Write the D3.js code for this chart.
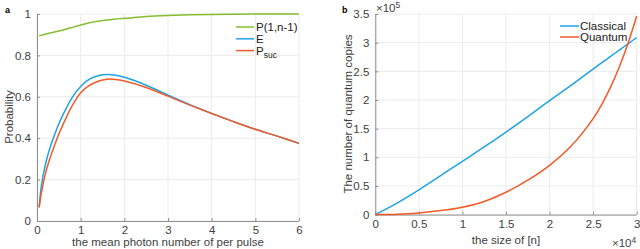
<!DOCTYPE html>
<html><head><meta charset="utf-8">
<script src="https://cdn.jsdelivr.net/npm/d3@7"></script>
<style>
body{margin:0;background:#fff;}
svg{display:block;font-family:"Liberation Sans",Arial,sans-serif;}
</style></head>
<body><svg id="c" width="640" height="249"></svg>
<script>
// ---- Panel a data ----
const muX = [0.05,0.1,0.2,0.3,0.4,0.5,0.6,0.8,1.0,1.2,1.4,1.6,1.8,2.0,2.5,3.0,3.5,4.0,4.5,5.0,5.5,6.0];
const pGreen = [0.895,0.898,0.903,0.908,0.913,0.918,0.923,0.935,0.947,0.958,0.965,0.971,0.976,0.979,0.988,0.993,0.996,0.998,0.999,0.9995,1.0,1.0];
const eBlue = [0.07,0.17,0.28,0.355,0.415,0.47,0.515,0.595,0.65,0.685,0.702,0.708,0.704,0.694,0.656,0.608,0.562,0.52,0.48,0.443,0.41,0.375];
const pSuc  = [0.065,0.135,0.235,0.305,0.365,0.42,0.468,0.555,0.62,0.655,0.675,0.685,0.684,0.676,0.645,0.603,0.56,0.519,0.48,0.443,0.41,0.375];
const aXTicks = [0,1,2,3,4,5,6];
const aYTicks = [0,0.2,0.4,0.6,0.8,1];
const aLegend = ["P(1,n-1)","E","P"];

// ---- Panel b data ----
const nX = [0,0.25,0.5,0.75,1.0,1.25,1.5,1.75,2.0,2.25,2.5,2.6,2.7,2.8,2.9,3.0];
const classical = [0,0.2,0.43,0.68,0.93,1.18,1.44,1.71,1.99,2.26,2.54,2.65,2.76,2.87,2.98,3.09];
const quantum = [0,0.008,0.03,0.07,0.13,0.23,0.39,0.60,0.86,1.2,1.675,1.925,2.225,2.575,2.985,3.465];
const bXTicks = [0,0.5,1,1.5,2,2.5,3];
const bYTicks = [0,0.5,1,1.5,2,2.5,3,3.5];
const bLegend = ["Classical","Quantum"];

const C_GREEN="#84be2e", C_BLUE="#1ea3e8", C_ORANGE="#f25a28";
const AX="#8f8f8f", TXT="#404040", GRID="#ebebeb";

const svg=d3.select("#c");

function panel(o){
  const g=svg.append("g");
  const x=d3.scaleLinear().domain(o.xd).range([o.x0,o.x1]);
  const y=d3.scaleLinear().domain(o.yd).range([o.y0,o.y1]);
  g.append("g").selectAll("line").data(o.xt).join("line")
    .attr("x1",d=>x(d)).attr("x2",d=>x(d)).attr("y1",o.y0).attr("y2",o.y1)
    .attr("stroke",GRID).attr("stroke-width",1);
  g.append("g").selectAll("line").data(o.yt).join("line")
    .attr("y1",d=>y(d)).attr("y2",d=>y(d)).attr("x1",o.x0).attr("x2",o.x1)
    .attr("stroke",GRID).attr("stroke-width",1);
  const xa=d3.axisBottom(x).tickValues(o.xt).tickSize(-3).tickPadding(5).tickFormat(o.xf);
  const ya=d3.axisLeft(y).tickValues(o.yt).tickSize(-3).tickPadding(6).tickFormat(o.yf);
  const gx=g.append("g").attr("transform",`translate(0,${o.y0})`).call(xa);
  const gy=g.append("g").attr("transform",`translate(${o.x0},0)`).call(ya);
  [gx,gy].forEach(a=>{
    a.select(".domain").attr("stroke",AX).attr("stroke-width",1);
    a.selectAll(".tick line").attr("stroke",AX);
    a.selectAll(".tick text").attr("fill",TXT).style("font-size","11.5px").style("font-family","Liberation Sans, Arial, sans-serif");
  });
  gx.select(".domain").attr("d",`M${o.x0},0.5H${o.x1}`);
  gy.select(".domain").attr("d",`M0.5,${o.y0}V${o.y1}`);
  return {g,x,y};
}

// Panel a
const A=panel({xd:[0,6],yd:[0,1],x0:37,x1:299,y0:221,y1:14,xt:aXTicks,yt:aYTicks,
  xf:d3.format("d"),yf:d=>d===0||d===1?String(d):d3.format(".1f")(d)});
const lineA=(arr)=>d3.line().x((d,i)=>A.x(muX[i])).y(d=>A.y(d)).curve(d3.curveCatmullRom.alpha(0.5))(arr);
A.g.append("path").attr("d",lineA(pGreen)).attr("fill","none").attr("stroke",C_GREEN).attr("stroke-width",1.5);
A.g.append("path").attr("d",lineA(eBlue)).attr("fill","none").attr("stroke",C_BLUE).attr("stroke-width",1.5);
A.g.append("path").attr("d",lineA(pSuc)).attr("fill","none").attr("stroke",C_ORANGE).attr("stroke-width",1.5);
const aCols=[C_GREEN,C_BLUE,C_ORANGE];
aLegend.forEach((t,i)=>{
  const yy=27+i*11.8;
  svg.append("line").attr("x1",236).attr("x2",254).attr("y1",yy).attr("y2",yy).attr("stroke",aCols[i]).attr("stroke-width",1.5);
  const tx=svg.append("text").attr("x",256).attr("y",yy+4).attr("fill","#202020").style("font-size","11.5px").text(t);
  if(i===2) tx.append("tspan").attr("dy",3).style("font-size","8.5px").text("suc");
});
svg.append("text").attr("x",13).attr("y",117).attr("transform","rotate(-90,13,117)").attr("text-anchor","middle")
  .attr("fill",TXT).style("font-size","11.5px").text("Probability");
svg.append("text").attr("x",168).attr("y",246).attr("text-anchor","middle")
  .attr("fill",TXT).style("font-size","11.5px").text("the mean photon number of per pulse");
svg.append("text").attr("x",5).attr("y",13).attr("fill","#000").style("font-size","9px").style("font-weight","bold").text("a");

// Panel b
const B=panel({xd:[0,3],yd:[0,3.5],x0:375.3,x1:636.7,y0:214.6,y1:14,xt:bXTicks,yt:bYTicks,
  xf:d=>String(d),yf:d=>String(d)});
const lineB=(arr)=>d3.line().x((d,i)=>B.x(nX[i])).y(d=>B.y(d)).curve(d3.curveCatmullRom.alpha(0.5))(arr);
B.g.append("path").attr("d",lineB(classical)).attr("fill","none").attr("stroke",C_BLUE).attr("stroke-width",1.5);
B.g.append("path").attr("d",lineB(quantum)).attr("fill","none").attr("stroke",C_ORANGE).attr("stroke-width",1.5);
const bCols=[C_BLUE,C_ORANGE];
bLegend.forEach((t,i)=>{
  const yy=26+i*11;
  svg.append("line").attr("x1",560).attr("x2",579).attr("y1",yy).attr("y2",yy).attr("stroke",bCols[i]).attr("stroke-width",1.5);
  svg.append("text").attr("x",580).attr("y",yy+4).attr("fill","#202020").style("font-size","11.5px").text(t);
});
svg.append("text").attr("x",352).attr("y",114).attr("transform","rotate(-90,352,114)").attr("text-anchor","middle")
  .attr("fill",TXT).style("font-size","11.5px").text("The number of quantum copies");
svg.append("text").attr("x",506).attr("y",244).attr("text-anchor","middle")
  .attr("fill",TXT).style("font-size","11.5px").text("the size of [n]");
const e5=svg.append("text").attr("x",376).attr("y",12).attr("fill",TXT).style("font-size","11.5px").text("×10");
e5.append("tspan").attr("dy",-4).style("font-size","8.5px").text("5");
const e4=svg.append("text").attr("x",612).attr("y",247).attr("fill",TXT).style("font-size","11.5px").text("×10");
e4.append("tspan").attr("dy",-4).style("font-size","8.5px").text("4");
svg.append("text").attr("x",342).attr("y",13).attr("fill","#000").style("font-size","9px").style("font-weight","bold").text("b");
</script></body></html>
